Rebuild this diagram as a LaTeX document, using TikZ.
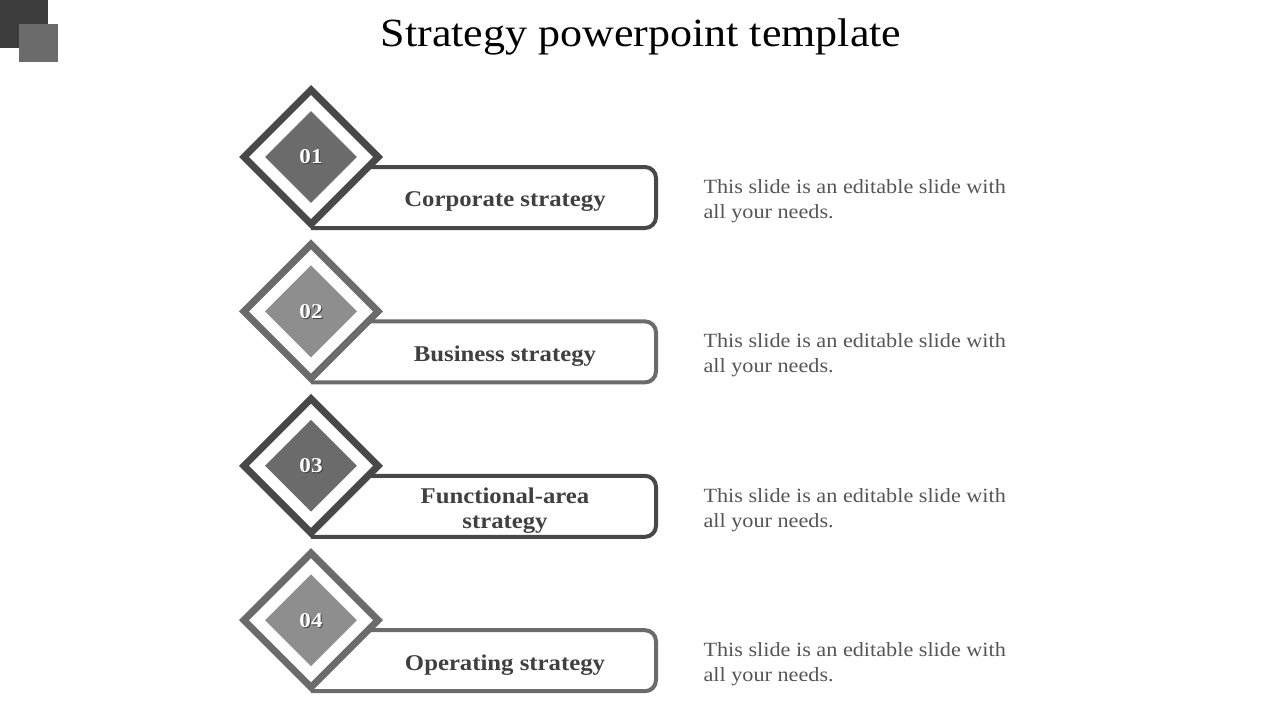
\documentclass[tikz,border=0pt]{standalone}
\usepackage{fontspec}
\setmainfont{Liberation Serif}[FakeStretch=1.1]
\usepackage{tikz}
\usetikzlibrary{shapes.geometric}
\definecolor{darkgrey}{HTML}{484848}
\definecolor{midgrey}{HTML}{6B6B6B}
\definecolor{lightgrey}{HTML}{8E8E8E}
\definecolor{textgrey}{HTML}{404040}
\definecolor{bodygrey}{HTML}{555555}

\begin{document}
\begin{tikzpicture}[x=1pt, y=-1pt,
  outer diamond/.style={diamond, aspect=1, draw, fill=white, line width=7pt,
    minimum size=137pt, inner sep=0pt},
  inner diamond/.style={diamond, aspect=1, minimum size=92pt, inner sep=0pt},
  label box/.style={line width=4pt, rounded corners=11pt},
  number/.style={font=\fontsize{21}{24}\selectfont\bfseries},
  step label/.style={font=\fontsize{22.5}{25}\selectfont\bfseries, text=textgrey, align=center},
  body text/.style={font=\fontsize{20.2}{25}\selectfont, text=bodygrey, align=left, anchor=west}]

\useasboundingbox (0,0) rectangle (1280,720);

% corner squares
\fill [darkgrey!85!black] (0,0) rectangle (48,48);
\fill [midgrey] (19,24) rectangle (58,62);

\node (title) at (641,37) {\fontsize{40}{46}\selectfont Strategy powerpoint template};

\foreach \n/\l/\edge/\core [count=\i] in {
    01/Corporate strategy/darkgrey/midgrey,
    02/Business strategy/midgrey/lightgrey,
    03/{Functional-area\\strategy}/darkgrey/midgrey,
    04/Operating strategy/midgrey/lightgrey}
{
  \pgfmathsetmacro{\y}{157+154.4*(\i-1)}
  \draw [label box, draw=\edge] (311,\y+10) -- (656,\y+10) -- (656,\y+71) -- (311,\y+71);
  \node [step label] (label-\i) at (505,\y+44.5) {\l};
  \node [outer diamond, draw=\edge] (outer-\i) at (311,\y) {};
  \node [inner diamond, fill=\core] (inner-\i) at (outer-\i) {};
  \node [number, text=black!75] (shadow-\i) at ([xshift=1pt, yshift=-1pt]inner-\i) {\n};
  \node [number, text=white] (num-\i) at (inner-\i) {\n};
  \node [body text] (text-\i) at (700,\y+44) {This slide is an editable slide with\\all your needs.};
}

\end{tikzpicture}
\end{document}
